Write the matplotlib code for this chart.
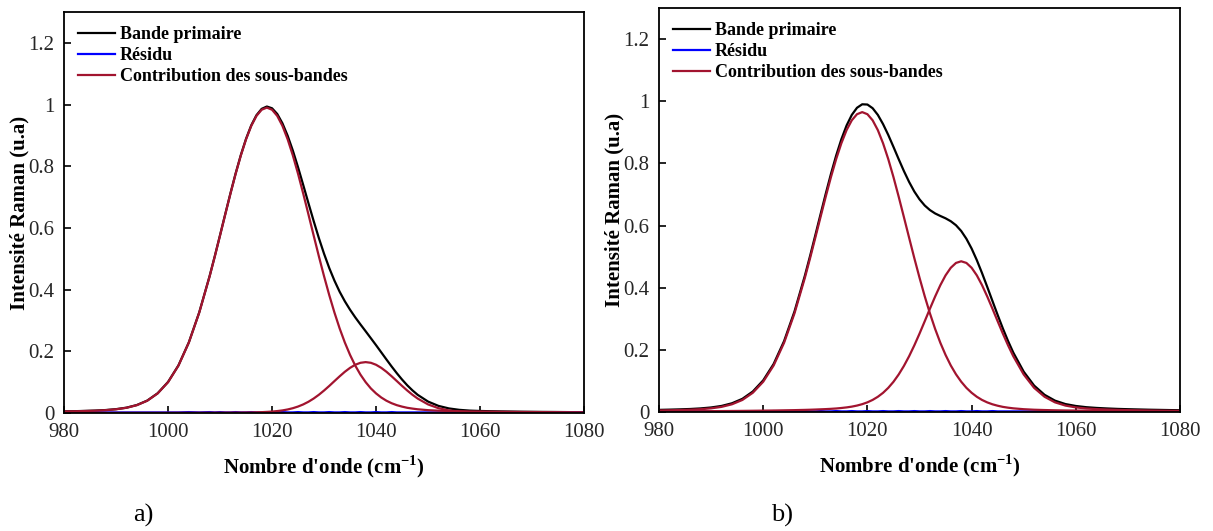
import numpy as np
import matplotlib
matplotlib.use("Agg")
import matplotlib.pyplot as plt

plt.rcParams['font.family'] = ['Liberation Serif', 'DejaVu Serif']
plt.rcParams['mathtext.fontset'] = 'custom'
plt.rcParams['mathtext.rm'] = 'Liberation Serif'
plt.rcParams['mathtext.bf'] = 'Liberation Serif:bold'

# Wavenumber grid (cm-1)
wavenumber = [980, 982, 984, 986, 988, 990, 992, 994, 996, 998, 1000, 1002, 1004, 1006, 1008,
              1009, 1010, 1011, 1012, 1013, 1014, 1015, 1016, 1017, 1018, 1019, 1020, 1021, 1022,
              1023, 1024, 1025, 1026, 1027, 1028, 1029, 1030, 1031, 1032, 1033, 1034, 1035, 1036,
              1037, 1038, 1039, 1040, 1041, 1042, 1043, 1044, 1045, 1046, 1047,
              1048, 1050, 1052, 1054, 1056, 1058, 1060, 1062, 1064, 1066, 1068, 1070, 1072, 1074,
              1076, 1078, 1080]

# ---- panel a) ----
primary_a = [.0053, .0059, .0068, .0079, .0096, .0125, .0173, .0259, .0403, .0640, .1006, .1544, .2291, .3264, .4443,
             .5092, .5767, .6449, .7123, .7769, .8365, .8890, .9326, .9654, .9860, .9936, .9879, .9694, .9391,
             .8988, .8506, .7965, .7389, .6802, .6225, .5673, .5163, .4700, .4291, .3931, .3621, .3348, .3101,
             .2872, .2650, .2425, .2199, .1967, .1735, .1507, .1289, .1085, .0898, .0734,
             .0590, .0371, .0231, .0149, .0103, .0078, .0066, .0058, .0052, .0047, .0042, .0039, .0036, .0034,
             .0031, .0028, .0027]
band1_a = [.0050, .0056, .0065, .0075, .0092, .0121, .0169, .0254, .0398, .0635, .1000, .1537, .2284, .3256, .4434,
           .5082, .5756, .6437, .7110, .7755, .8350, .8873, .9307, .9631, .9832, .9900, .9832, .9631, .9307,
           .8873, .8350, .7755, .7110, .6437, .5756, .5082, .4434, .3822, .3256, .2741, .2284, .1884, .1537,
           .1244, .1000, .0797, .0635, .0503, .0398, .0317, .0254, .0207, .0169, .0143,
           .0121, .0092, .0075, .0065, .0056, .0050, .0047, .0043, .0039, .0036, .0033, .0031, .0029, .0027,
           .0025, .0023, .0022]
band2_a = [.0003, .0003, .0003, .0004, .0004, .0004, .0004, .0005, .0005, .0005, .0006, .0007, .0007, .0008, .0009,
           .0010, .0011, .0012, .0013, .0014, .0015, .0017, .0019, .0023, .0028, .0036, .0047, .0063, .0084,
           .0115, .0156, .0210, .0279, .0365, .0469, .0591, .0729, .0878, .1035, .1190, .1337, .1464, .1564,
           .1628, .1650, .1628, .1564, .1464, .1337, .1190, .1035, .0878, .0729, .0591,
           .0469, .0279, .0156, .0084, .0047, .0028, .0019, .0015, .0013, .0011, .0009, .0008, .0007, .0007,
           .0006, .0005, .0005]
residual_a = [.002, .002, .002, .002, .002, .002, .002, .002, .002, .002, .002, .002, .003, .002, .003,
              .002, .003, .002, .002, .003, .002, .002, .003, .002, .002, .003, .002, .002, .003,
              .002, .002, .003, .002, .002, .003, .002, .002, .003, .002, .002, .003, .002, .002,
              .003, .002, .002, .003, .002, .002, .003, .002, .002, .002, .002,
              .002, .002, .002, .002, .002, .002, .002, .002, .002, .002, .002, .002, .002, .002,
              .002, .002, .002]

# ---- panel b) ----
primary_b = [.0068, .0076, .0085, .0097, .0116, .0146, .0195, .0281, .0424, .0659, .1019, .1546, .2280, .3234, .4390,
             .5026, .5689, .6360, .7023, .7661, .8252, .8777, .9219, .9560, .9790, .9902, .9894, .9776, .9561,
             .9265, .8916, .8531, .8137, .7755, .7404, .7096, .6844, .6645, .6498, .6389, .6308, .6233, .6139,
             .6010, .5825, .5574, .5260, .4887, .4470, .4026, .3572, .3122, .2687, .2282,
             .1912, .1297, .0850, .0553, .0366, .0256, .0194, .0155, .0131, .0114, .0100, .0090, .0082, .0074,
             .0068, .0062, .0057]
band1_b = [.0049, .0055, .0063, .0073, .0090, .0118, .0165, .0248, .0388, .0619, .0975, .1498, .2226, .3174, .4322,
           .4953, .5610, .6274, .6930, .7559, .8139, .8648, .9071, .9387, .9583, .9650, .9583, .9387, .9071,
           .8648, .8139, .7559, .6930, .6274, .5610, .4953, .4322, .3725, .3174, .2672, .2226, .1836, .1498,
           .1213, .0975, .0777, .0619, .0490, .0388, .0309, .0248, .0202, .0165, .0139,
           .0118, .0090, .0073, .0063, .0055, .0049, .0046, .0042, .0038, .0035, .0032, .0030, .0028, .0026,
           .0024, .0022, .0021]
band2_b = [.0019, .0021, .0022, .0024, .0026, .0028, .0030, .0033, .0036, .0040, .0044, .0048, .0054, .0060, .0068,
           .0073, .0079, .0086, .0093, .0102, .0113, .0129, .0148, .0173, .0207, .0252, .0311, .0389, .0490,
           .0617, .0777, .0972, .1207, .1481, .1794, .2143, .2522, .2920, .3324, .3717, .4082, .4397, .4641,
           .4797, .4850, .4797, .4641, .4397, .4082, .3717, .3324, .2920, .2522, .2143,
           .1794, .1207, .0777, .0490, .0311, .0207, .0148, .0113, .0093, .0079, .0068, .0060, .0054, .0048,
           .0044, .0040, .0036]
residual_b = [.002, .002, .002, .002, .002, .002, .002, .002, .002, .002, .002, .003, .002, .002, .003,
              .002, .002, .003, .002, .002, .003, .002, .002, .003, .002, .002, .003, .002, .002,
              .003, .002, .002, .003, .002, .002, .003, .002, .002, .003, .002, .002, .003, .002,
              .002, .003, .002, .002, .003, .002, .002, .003, .002, .002, .002,
              .002, .002, .002, .002, .002, .002, .002, .002, .002, .002, .002, .002, .002, .002,
              .002, .002, .002]

panels = [
    ("a)", primary_a, residual_a, [band1_a, band2_a]),
    ("b)", primary_b, residual_b, [band1_b, band2_b]),
]
axes_pos = [[0.0528, 0.2222, 0.4287, 0.7552], [0.5433, 0.2241, 0.4295, 0.7608]]
tag_x = [0.118, 0.645]

RED = '#a2142f'
TICK_COLOR = '#262626'

fig = plt.figure(figsize=(12.13, 5.31), dpi=100)

for i, (tag, primary, residual, bands) in enumerate(panels):
    ax = fig.add_axes(axes_pos[i])
    x = np.array(wavenumber)

    ax.plot(x, primary, color='black', lw=1.6, label='Bande primaire')
    ax.plot(x, residual, color='#0000ff', lw=1.6, label='Résidu')
    for j, band in enumerate(bands):
        ax.plot(x, band, color=RED, lw=1.6,
                label='Contribution des sous-bandes' if j == 0 else None)

    ax.set_xlim(980, 1080)
    ax.set_ylim(0, 1.3)
    ax.set_xticks(np.arange(980, 1081, 20))
    ax.set_yticks([0, 0.2, 0.4, 0.6, 0.8, 1.0, 1.2])
    ax.set_yticklabels(['0', '0.2', '0.4', '0.6', '0.8', '1', '1.2'])
    ax.tick_params(direction='in', length=5, width=1.2, labelsize=15,
                   labelcolor=TICK_COLOR, top=False, right=False, pad=7)
    for s in ax.spines.values():
        s.set_linewidth(1.3)

    ax.set_xlabel("Nombre d'onde (cm$^{\\mathbf{-1}}$)", fontsize=15, fontweight='bold')
    ax.set_ylabel('Intensité Raman (u.a)', fontsize=15, fontweight='bold')
    ax.xaxis.set_label_coords(0.5, -0.1)
    ax.yaxis.set_label_coords(-0.067, 0.5)

    ax.legend(loc='upper left', frameon=False, prop={'weight': 'bold', 'size': 13},
              handlelength=2.0, handletextpad=0.3, labelspacing=0.22,
              borderaxespad=0.4, bbox_to_anchor=(0.0, 1.0))

    fig.text(tag_x[i], 0.03, tag, fontsize=19, ha='center', va='center')

fig.savefig('out.png', dpi=100)
